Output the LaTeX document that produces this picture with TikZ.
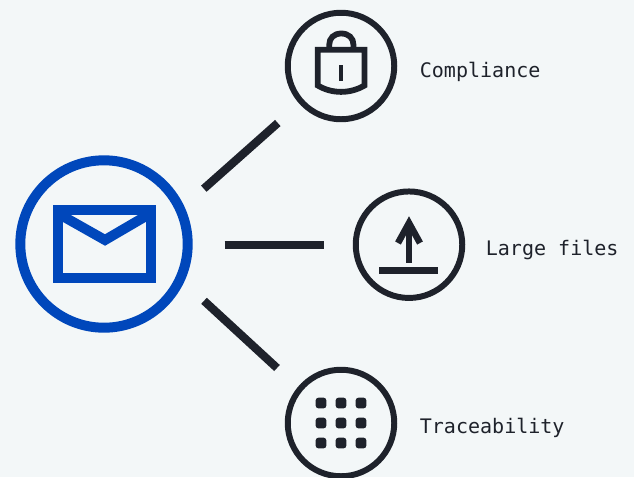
\documentclass[tikz,border=0pt]{standalone}
\usepackage{fontspec}
\setmonofont{DejaVu Sans Mono}
\definecolor{pagebg}{HTML}{F3F7F8}
\definecolor{inkdark}{HTML}{1E222B}
\definecolor{mailblue}{HTML}{0047BB}
\tikzset{
    ring/.style={draw=inkdark, line width=3.4pt, circle, inner sep=0pt, minimum size=106.5*0.02cm},
    spoke/.style={draw=inkdark, line width=4.7pt},
    icon/.style={draw=inkdark, line width=3.3pt, miter limit=10},
    tag/.style={anchor=west, inner sep=0pt, text=inkdark, font=\ttfamily\fontsize{11.4}{13}\selectfont},
}
\begin{document}
\begin{tikzpicture}[x=0.02cm, y=-0.02cm]
    \path[use as bounding box, fill=pagebg] (0,0) rectangle (634,477);

    % Correo
    \node[ring, draw=mailblue, line width=5.67pt, minimum size=167.4*0.02cm] (mail) at (104,244) {};
    \draw[mailblue, line width=5.67pt] (57.7,209.7) rectangle (150.7,278);
    \draw[mailblue, line width=5.67pt] (57.7,213.3) -- (105,240) -- (150.7,213.3);

    % Circulos
    \foreach \name/\x/\y in {lock/341/66, upload/409/244.7, grid/341/423} {
        \node[ring] (\name) at (\x,\y) {};
    }

    % Candado
    \draw[icon] (317.8,85.5) -- (317.8,49.8) -- (364.5,49.8) -- (364.5,85.5)
        .. controls (350,94) and (332,94) .. cycle;
    \draw[icon] (329.2,48) -- (329.2,45) .. controls (329.2,38) and (334,33.5) .. (341.3,33.5)
        .. controls (348.6,33.5) and (353.5,38) .. (353.5,45) -- (353.5,48);
    \draw[icon, line width=2.5pt] (341,65) -- (341,81);

    % Subida
    \draw[icon, line width=4pt] (379,270.3) -- (438,270.3);
    \draw[icon, line width=3.7pt] (409,262.7) -- (409,223);
    \draw[icon, line width=3.7pt] (398,243) -- (409,223) -- (420,243);

    % Puntos
    \foreach \x in {321,341,361} {
        \foreach \y in {403,423,443} {
            \fill[inkdark, rounded corners=1.5pt] (\x-5.3,\y-5.3) rectangle (\x+5.3,\y+5.3);
        }
    }

    % Lineas
    \foreach \id/\xa/\ya/\xb/\yb in {a/203.8/188.7/277.8/123, b/224.7/245/324.3/245, c/204/300.8/277/368} {
        \coordinate (\id1) at (\xa,\ya);
        \coordinate (\id2) at (\xb,\yb);
        \draw[spoke] (\id1) -- (\id2);
    }

    % Etiquetas
    \node[tag] (compliance) at (419.5,72) {Compliance};
    \node[tag] (files) at (485.5,250) {Large files};
    \node[tag] (trace) at (419.5,428) {Traceability};
\end{tikzpicture}
\end{document}
